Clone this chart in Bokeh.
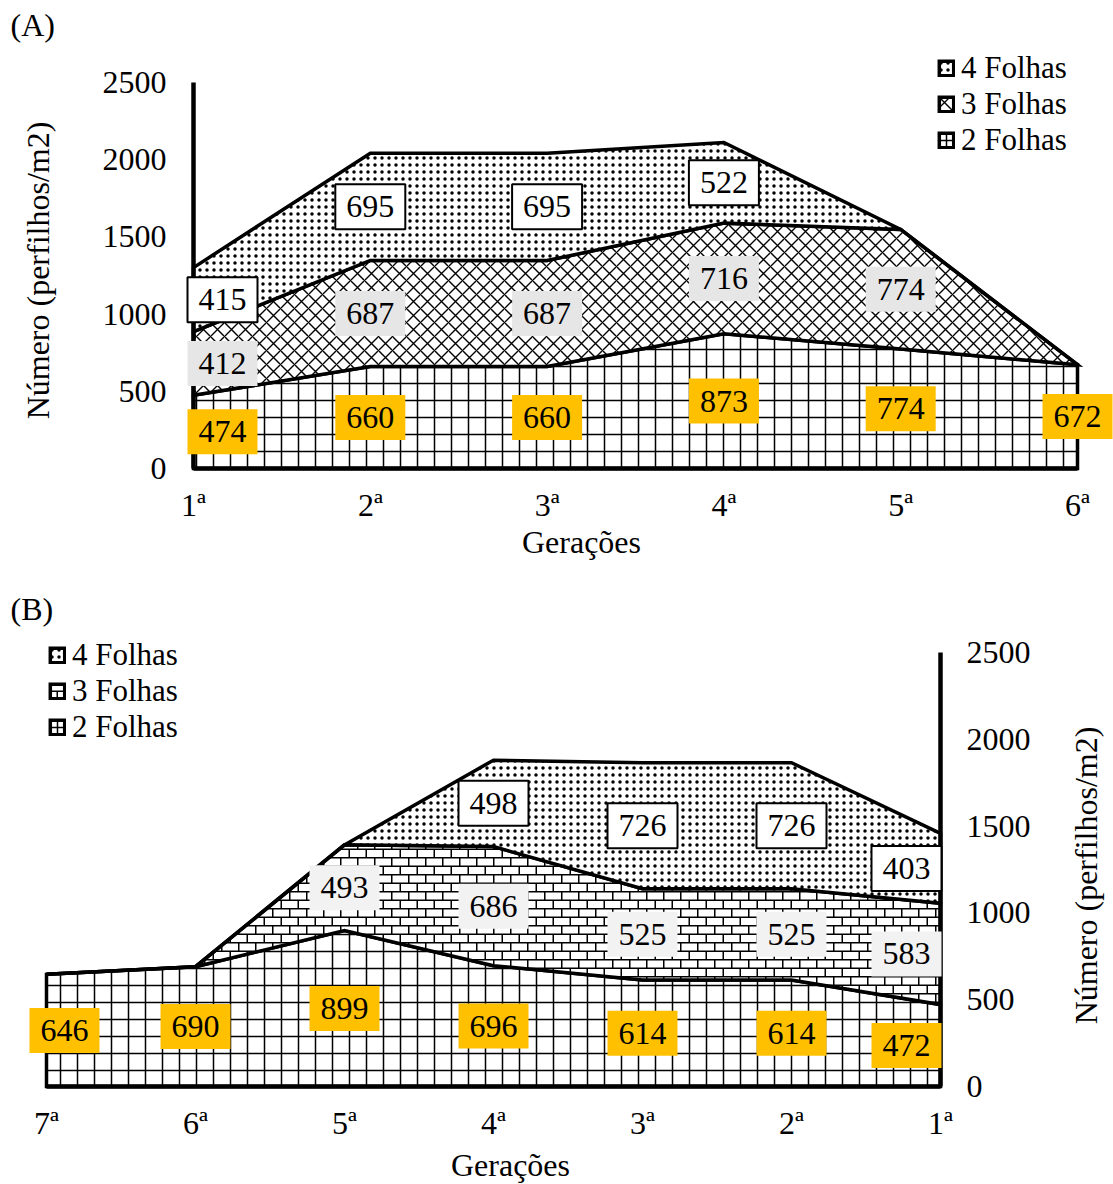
import math
from bokeh.plotting import figure
from bokeh.models import (Range1d, FixedTicker, Label, Legend, LegendItem, CanvasTexture)
from bokeh.embed import file_html
from bokeh.resources import INLINE

FONT = "Liberation Serif"
FS = "32px"

# ---------------- data ----------------
A_cats = ["1ª", "2ª", "3ª", "4ª", "5ª", "6ª"]
A_2f = [474, 660, 660, 873, 774, 672]
A_3f = [412, 687, 687, 716, 774, 0]
A_4f = [415, 695, 695, 522, 0, 0]

B_cats = ["7ª", "6ª", "5ª", "4ª", "3ª", "2ª", "1ª"]
B_2f = [646, 690, 899, 696, 614, 614, 472]
B_3f = [0, 0, 493, 686, 525, 525, 583]
B_4f = [0, 0, 0, 498, 726, 726, 403]

y_ticks = [0, 500, 1000, 1500, 2000, 2500]
series_names = ["2 Folhas", "3 Folhas", "4 Folhas"]
y_title = "Número (perfilhos/m2)"
x_title = "Gerações"

# ---------------- textures ----------------
brick_js = """
try {
  const c = ctx.canvas;
  if (c) { c.width = 17; c.height = 17; }
  ctx.strokeStyle = '#000000';
  ctx.lineWidth = 1.5;
  const h = 17, h2 = 8.5;
  ctx.beginPath();
  ctx.moveTo(0, 0.75); ctx.lineTo(h, 0.75);
  ctx.moveTo(0, h2 + 0.75); ctx.lineTo(h, h2 + 0.75);
  ctx.moveTo(0.75, 0); ctx.lineTo(0.75, h2);
  ctx.moveTo(h2 + 0.75, h2); ctx.lineTo(h2 + 0.75, h);
  ctx.stroke();
} catch (e) {}
"""
EXTRA = {"brick": CanvasTexture(code=brick_js)}


def cumulate(*series):
    out = [[0] * len(series[0])]
    for s in series:
        out.append([a + b for a, b in zip(out[-1], s)])
    return out


def style_axes(p):
    for ax in p.xaxis + p.yaxis:
        ax.axis_line_width = 4.5
        ax.axis_line_color = "black"
        ax.major_tick_out = 0
        ax.major_tick_in = 0
        ax.minor_tick_out = 0
        ax.minor_tick_in = 0
        ax.major_label_text_font = FONT
        ax.major_label_text_font_size = FS
        ax.major_label_text_color = "black"
    p.grid.visible = False
    p.outline_line_color = None


def add_text(p, text, sx, sy, align="center", baseline="middle", angle=0.0):
    p.add_layout(Label(x=sx, y=sy, x_units="screen", y_units="screen", text=text,
                       angle=angle, text_font=FONT, text_font_size=FS,
                       text_color="black", text_align=align,
                       text_baseline=baseline))


def add_areas(p, x, series, hatches, label_styles, offsets):
    cum = cumulate(*series)
    rends = []
    for k, s in enumerate(series):
        bottom, top = cum[k], cum[k + 1]
        xs = list(x) + list(x)[::-1]
        ys = list(top) + list(bottom)[::-1]
        h = hatches[k]
        r = p.patch(xs, ys, fill_color="white", line_color="black", line_width=3.5,
                    line_join="miter",
                    hatch_pattern=h[0], hatch_scale=h[1], hatch_weight=h[2],
                    hatch_color="black", hatch_extra=EXTRA)
        rends.append(r)
    for k, s in enumerate(series):
        bg, border = label_styles[k]
        for i, v in enumerate(s):
            if v <= 0:
                continue
            p.add_layout(Label(x=x[i], y=cum[k][i] + v / 2, text=str(v),
                               x_offset=offsets.get(i, 0),
                               text_font=FONT, text_font_size=FS, text_color="black",
                               text_align="center", text_baseline="middle",
                               background_fill_color=bg,
                               border_line_color=border, border_line_width=2,
                               padding=(11, 12)))
    return rends


def add_legend(p, rends, loc):
    items = [LegendItem(label=series_names[k], renderers=[rends[k]]) for k in (2, 1, 0)]
    leg = Legend(items=items, location=loc, glyph_width=18, glyph_height=18,
                 label_text_font=FONT, label_text_font_size="31px",
                 label_text_color="black",
                 label_standoff=6, spacing=0, padding=0, margin=0,
                 border_line_alpha=0, background_fill_alpha=0)
    p.add_layout(leg)


def make_fig(w, h, xr, yr, y_side):
    return figure(width=w, height=h, x_range=Range1d(*xr), y_range=Range1d(*yr),
                  output_backend="svg", toolbar_location=None,
                  y_axis_location=y_side,
                  min_border_left=0, min_border_right=0, min_border_top=0,
                  min_border_bottom=0, background_fill_color="white",
                  border_fill_color="white")


# ---------------- panel A ----------------
xA = list(range(len(A_cats)))
pA = make_fig(1113, 568, (-193 / 176.8, 920 / 176.8), (-648, 3031), "left")
style_axes(pA)
pA.xaxis.ticker = FixedTicker(ticks=xA)
pA.xaxis.major_label_overrides = {i: c for i, c in enumerate(A_cats)}
pA.xaxis.bounds = (0, len(A_cats) - 1)
pA.xaxis.major_label_standoff = 19
pA.xaxis.fixed_location = 0
pA.yaxis.ticker = FixedTicker(ticks=y_ticks)
pA.yaxis.bounds = (0, 2500)
pA.yaxis.major_label_standoff = 27
pA.yaxis.fixed_location = 0

rA = add_areas(pA, xA, [A_2f, A_3f, A_4f],
               [("+", 17, 1.5), ("x", 14, 1.4), (".", 7, 1)],
               [("#FFC000", None), ("#E7E6E6", None), ("white", "black")],
               {0: 29})
add_legend(pA, rA, (937, 410))
add_text(pA, "(A)", 10, 562, align="left", baseline="top")
add_text(pA, x_title, 581, 27)
add_text(pA, y_title, 37, 298, angle=math.pi / 2)

# ---------------- panel B ----------------
xB = list(range(len(B_cats)))
pB = make_fig(1113, 616, (-46 / 149, len(B_cats) - 1 + 173 / 149), (-564.5, 2984),
              "right")
style_axes(pB)
pB.xaxis.ticker = FixedTicker(ticks=xB)
pB.xaxis.major_label_overrides = {i: c for i, c in enumerate(B_cats)}
pB.xaxis.bounds = (0, len(B_cats) - 1)
pB.xaxis.major_label_standoff = 18
pB.xaxis.fixed_location = 0
pB.yaxis.ticker = FixedTicker(ticks=y_ticks)
pB.yaxis.bounds = (0, 2500)
pB.yaxis.major_label_standoff = 26
pB.yaxis.fixed_location = len(B_cats) - 1

rB = add_areas(pB, xB, [B_2f, B_3f, B_4f],
               [("+", 17, 1.5), ("brick", 17, 1.5), (".", 7, 1)],
               [("#FFC000", None), ("#F2F2F2", None), ("white", "black")],
               {0: 18, len(B_cats) - 1: -34})
add_legend(pB, rB, (48, 439))
add_text(pB, "(B)", 10, 594, align="left", baseline="top")
add_text(pB, x_title, 510, 20)
add_text(pB, y_title, 1085, 309, angle=math.pi / 2)

open("out.html", "w").write(file_html([pA, pB], INLINE))
